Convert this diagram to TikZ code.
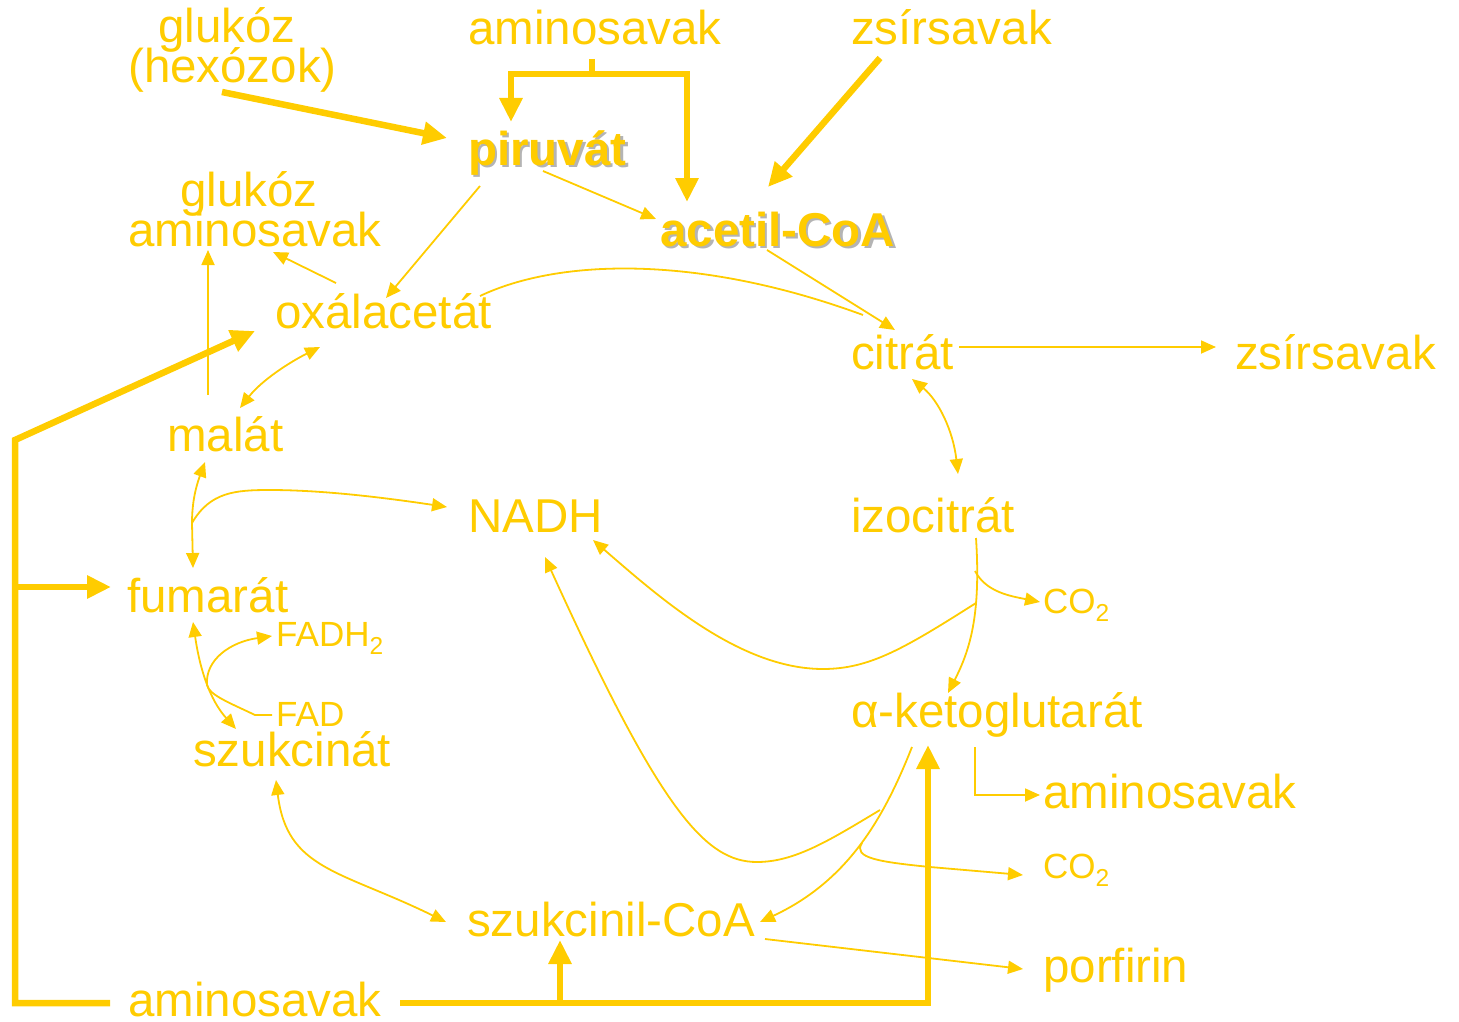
\documentclass[tikz,border=0pt]{standalone}
\usepackage{fontspec}
\setmainfont{Liberation Sans}
\usetikzlibrary{arrows.meta}
\definecolor{gold}{HTML}{FFCC00}
\definecolor{shade}{HTML}{B4B4B4}
\begin{document}
\begin{tikzpicture}[x=1pt,y=-1pt,
  lbl/.style={anchor=base west, inner sep=0pt, text=gold, font=\fontsize{47.5}{52}\selectfont},
  sml/.style={lbl, font=\fontsize{35}{40}\selectfont},
  bld/.style={lbl, font=\fontsize{47.5}{52}\selectfont\bfseries},
  shd/.style={bld, text=shade},
  ln/.style={draw=gold, line width=1.8pt},
  arr/.style={ln, -{Triangle[length=15pt,width=13pt]}},
  arrb/.style={ln, {Triangle[length=15pt,width=13pt]}-{Triangle[length=15pt,width=13pt]}},
  bigln/.style={draw=gold, line width=6.5pt},
  bigarr/.style={bigln, -{Triangle[length=24pt,width=22pt]}},
  bigarrb/.style={bigln, {Triangle[length=24pt,width=22pt]}-{Triangle[length=24pt,width=22pt]}}]
\useasboundingbox (0,0) rectangle (1459,1022);
% labels
\node[lbl] (glu1) at (158,43) {glukóz};
\node[lbl] (glu2) at (128,83) {(hexózok)};
\node[lbl] (amtop) at (468,45) {aminosavak};
\node[lbl] (zstop) at (851,45) {zsírsavak};
\node[shd] (piruvsh) at (470.5,167.5) {piruvát};
\node[bld] (piruv) at (468,165) {piruvát};
\node[shd] (acetsh) at (662.5,248.5) {acetil-CoA};
\node[bld] (acet) at (660,246) {acetil-CoA};
\node[lbl] (glumid) at (180,206) {glukóz};
\node[lbl] (ammid) at (128,246) {aminosavak};
\node[lbl] (oxal) at (275,328) {oxálacetát};
\node[lbl] (citr) at (851,369) {citrát};
\node[lbl] (zsright) at (1235,369) {zsírsavak};
\node[lbl] (malat) at (167,451) {malát};
\node[lbl] (nadh) at (468,532) {NADH};
\node[lbl] (izoc) at (851,532) {izocitrát};
\node[lbl] (fumar) at (127,612) {fumarát};
\node[sml] (fadh) at (276,646) {FADH\textsubscript{2}};
\node[sml] (fad) at (276,726) {FAD};
\node[lbl] (szukc) at (193,766) {szukcinát};
\node[sml] (coa) at (1043,613) {CO\textsubscript{2}};
\node[lbl] (akg) at (851,727) {α-ketoglutarát};
\node[lbl] (amright) at (1043,808) {aminosavak};
\node[sml] (cob) at (1043,878) {CO\textsubscript{2}};
\node[lbl] (szcoa) at (467,936) {szukcinil-CoA};
\node[lbl] (porf) at (1043,982) {porfirin};
\node[lbl] (ambot) at (128,1016) {aminosavak};
% coordinates
\coordinate (gluS) at (222,92);
\coordinate (piruvT) at (447,138);
\coordinate (amS) at (592,59);
\coordinate (amJ) at (592,74);
\coordinate (amL) at (511,74);
\coordinate (amR) at (687,74);
\coordinate (amLT) at (511,122);
\coordinate (amRT) at (687,202);
\coordinate (zsS) at (880,58);
\coordinate (acetT) at (768,187);
\coordinate (brTop) at (15,440);
\coordinate (brMid) at (15,587);
\coordinate (brBot) at (15,1003);
\coordinate (oxT) at (255,331);
\coordinate (fumT) at (111,587);
\coordinate (ambL) at (110,1003);
\coordinate (ambR) at (400,1003);
\coordinate (ambJ) at (560,1003);
\coordinate (ambC) at (928,1003);
\coordinate (akgT) at (928,745);
\coordinate (szcoaT) at (560,940);
% thick connectors
\draw[bigarr] (gluS) -- (piruvT);
\draw[bigln] (amS) -- (amJ);
\draw[bigarrb] (amLT) -- (amL) -- (amR) -- (amRT);
\draw[bigarr] (zsS) -- (acetT);
\draw[bigarr, line join=miter] (ambL) -- (brBot) -- (brTop) -- (oxT);
\draw[bigarr] (brMid) -- (fumT);
\draw[bigarr, line join=miter] (ambR) -- (ambC) -- (akgT);
\draw[bigarr] (ambJ) -- (szcoaT);
% thin connectors
\coordinate (p1) at (543,171); \coordinate (p2) at (656,219);
\draw[arr] (p1) -- (p2);
\coordinate (p3) at (480,186); \coordinate (p4) at (386,298);
\draw[arr] (p3) -- (p4);
\coordinate (o1) at (336,283); \coordinate (o2) at (273,252);
\draw[arr] (o1) -- (o2);
\coordinate (m1) at (208,395); \coordinate (m2) at (208,250);
\draw[arr] (m1) -- (m2);
\coordinate (m3) at (240,408); \coordinate (m4) at (320,347);
\draw[arrb] (m3) .. controls (262,380) and (290,362) .. (m4);
\coordinate (o3) at (480,296); \coordinate (o4) at (863,315);
\draw[ln] (o3) .. controls (560,258) and (700,255) .. (o4);
\coordinate (a1) at (767,250); \coordinate (a2) at (895,330);
\draw[arr] (a1) -- (a2);
\coordinate (c1) at (959,347); \coordinate (c2) at (1216,347);
\draw[arr] (c1) -- (c2);
\coordinate (c3) at (912,379); \coordinate (c4) at (958,474);
\draw[arrb] (c3) .. controls (938,400) and (953,430) .. (c4);
\coordinate (i1) at (976,538); \coordinate (i2) at (948,693);
\draw[arr] (i1) .. controls (981,615) and (970,650) .. (i2);
\coordinate (i3) at (975,571); \coordinate (i4) at (1040,602);
\draw[arr] (i3) .. controls (986,592) and (1010,596) .. (i4);
\coordinate (i5) at (976,603); \coordinate (nadhA) at (593,540);
\draw[arr] (i5) .. controls (905,648) and (870,669) .. (823,669) .. controls (740,669) and (660,598) .. (nadhA);
\coordinate (k1) at (880,810); \coordinate (nadhB) at (545,557);
\draw[arr] (k1) .. controls (830,840) and (795,862) .. (757,862) .. controls (705,862) and (660,810) .. (nadhB);
\coordinate (k2) at (912,747); \coordinate (k3) at (760,922);
\draw[arr] (k2) .. controls (885,815) and (850,880) .. (k3);
\coordinate (k4) at (862,843); \coordinate (k5) at (1023,875);
\draw[arr] (k4) .. controls (852,858) and (880,862) .. (930,867) -- (k5);
\coordinate (k6) at (975,747); \coordinate (k7) at (975,795); \coordinate (k8) at (1040,795);
\draw[arr] (k6) -- (k7) -- (k8);
\coordinate (s1) at (765,939); \coordinate (s2) at (1023,969);
\draw[arr] (s1) -- (s2);
\coordinate (s3) at (276,780); \coordinate (s4) at (446,922);
\draw[arrb] (s3) .. controls (287,870) and (340,870) .. (s4);
\coordinate (f1) at (193,622); \coordinate (f2) at (236,729);
\draw[arrb] (f1) .. controls (200,670) and (210,700) .. (f2);
\coordinate (fa1) at (272,715); \coordinate (fa2) at (255,715); \coordinate (fa3) at (272,636);
\draw[arr] (fa1) -- (fa2) .. controls (230,703) and (209,695) .. (207,685) .. controls (205,660) and (230,642) .. (fa3);
\coordinate (ml1) at (205,462); \coordinate (ml2) at (193,568); \coordinate (mlJ) at (192,523);
\draw[arrb] (ml1) .. controls (194,492) and (192,508) .. (mlJ) -- (ml2);
\coordinate (nadhC) at (447,507);
\draw[arr] (mlJ) .. controls (210,492) and (235,490) .. (270,490) .. controls (330,490) and (400,500) .. (nadhC);
\end{tikzpicture}
\end{document}
